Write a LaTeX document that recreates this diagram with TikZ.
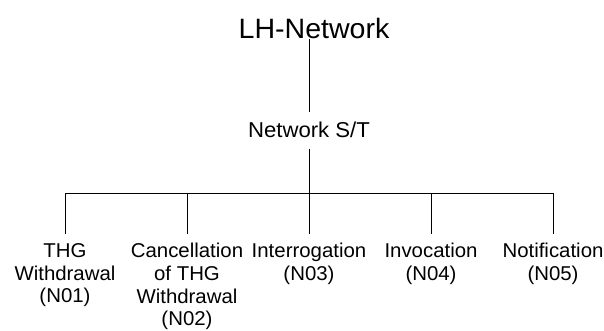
\documentclass[tikz,border=0pt]{standalone}
\usepackage{fontspec}
\setmainfont{Liberation Sans}
\begin{document}
\begin{tikzpicture}[x=1pt,y=-1pt,line width=0.9pt,
  txt/.style={inner sep=0pt,align=center},
  lab/.style={txt,anchor=north,font=\fontsize{20}{22.6}\selectfont,xscale=1.02}]
\useasboundingbox (0,0) rectangle (604,331);
\node[txt,anchor=base,font=\fontsize{28}{32}\selectfont,xscale=1.02] (lh) at (314,39) {LH-Network};
\coordinate (top) at (309,39);
\node[txt,anchor=base,font=\fontsize{21.5}{26}\selectfont,xscale=1.03] (nst) at (309,138) {Network S/T};
\coordinate (b1) at (65,193);
\coordinate (b2) at (187,193);
\coordinate (hub) at (309,193);
\coordinate (b4) at (431,193);
\coordinate (b5) at (553,193);
\node[lab] (l1) at (65,243) {THG\\Withdrawal\\(N01)};
\node[lab] (l2) at (187,243) {Cancellation\\of THG\\Withdrawal\\(N02)};
\node[lab] (l3) at (309,243) {Interrogation\\(N03)};
\node[lab] (l4) at (431,243) {Invocation\\(N04)};
\node[lab] (l5) at (553,243) {Notification\\(N05)};
\draw[shorten >=10pt] (top) -- (nst.north);
\draw[shorten <=10pt] (nst.south) -- (hub);
\draw (b1) -- (b5);
\foreach \i/\b in {1/b1,2/b2,3/hub,4/b4,5/b5}
  \draw[shorten >=9pt] (\b) -- (l\i.north);
\end{tikzpicture}
\end{document}
